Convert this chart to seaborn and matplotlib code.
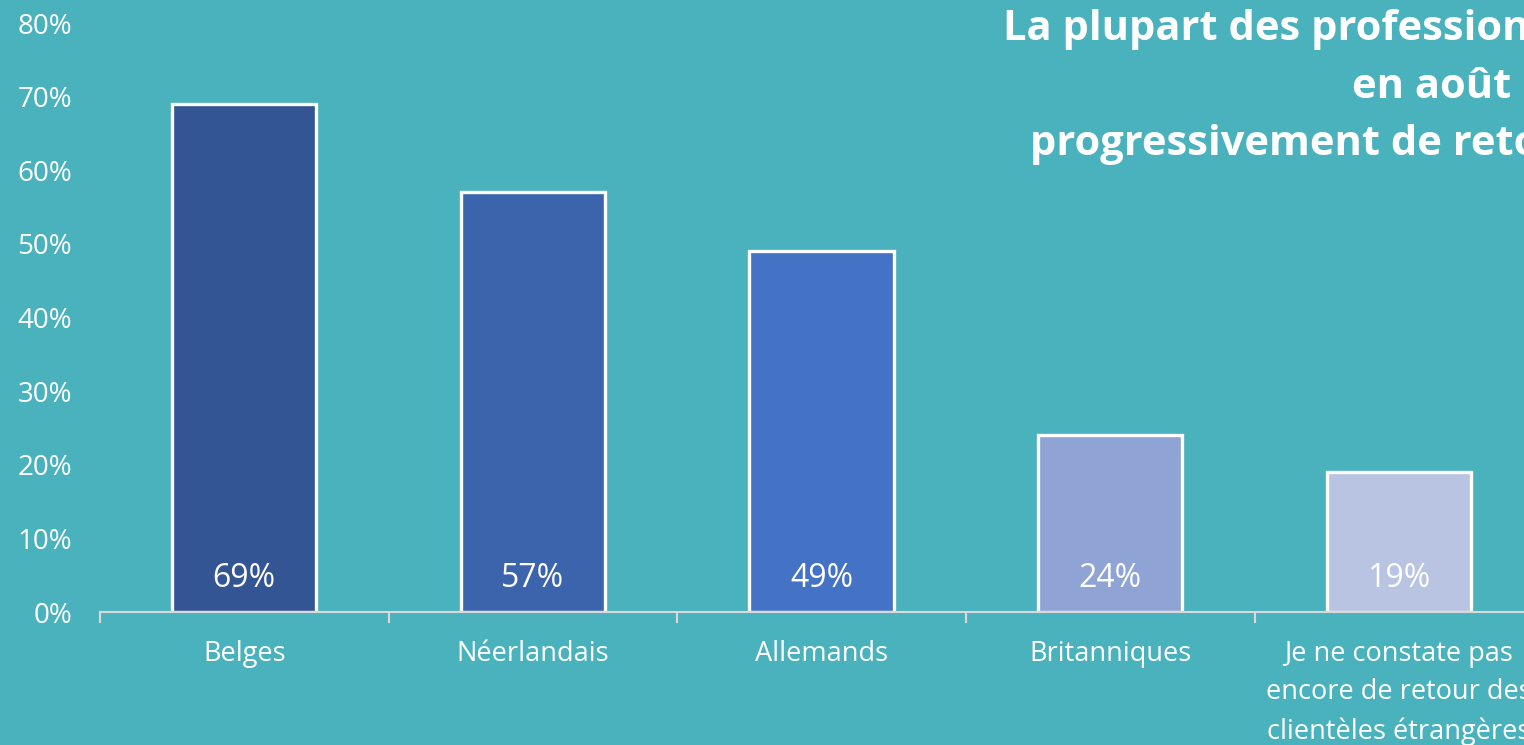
import matplotlib.pyplot as plt
import pandas as pd
import seaborn as sns

categories = [
    "Belges",
    "Néerlandais",
    "Allemands",
    "Britanniques",
    "Je ne constate pas\nencore de retour des\nclientèles étrangères",
]
values = [0.69, 0.57, 0.49, 0.24, 0.19]
bar_colors = ["#335593", "#3B64AD", "#4472C4", "#8FA3D4", "#B9C3E2"]
y_ticks = [0, 0.1, 0.2, 0.3, 0.4, 0.5, 0.6, 0.7, 0.8]
title_lines = ["La plupart des professionnels", "en août des", "progressivement de retour"]

BG = "#4AB2BD"

sns.set_theme(style="white")
plt.rcParams["font.family"] = ["Open Sans", "DejaVu Sans"]

df = pd.DataFrame({"cat": categories, "val": values})

fig = plt.figure(figsize=(15.24, 7.45), dpi=100, facecolor=BG)
ax = fig.add_axes([0.0656, 0.1785, 0.947, 0.7906])
ax.set_facecolor(BG)

sns.barplot(
    data=df, x="cat", y="val", hue="cat", palette=bar_colors, saturation=1,
    width=0.5, edgecolor="white", linewidth=2.4, legend=False, ax=ax,
)

for i, v in enumerate(values):
    ax.text(i, 0.046, f"{v * 100:.0f}%", ha="center", va="center",
            color="white", fontsize=23)

ax.set_xlim(-0.5, len(categories) - 0.5)
ax.set_ylim(0, 0.8)
ax.set_yticks(y_ticks)
ax.set_yticklabels([f"{t * 100:.0f}%" for t in y_ticks])
ax.set_xlabel("")
ax.set_ylabel("")

for side in ["top", "right", "left"]:
    ax.spines[side].set_visible(False)
ax.spines["bottom"].set_color("#D9D9D9")
ax.spines["bottom"].set_linewidth(1.5)

ax.tick_params(axis="y", length=0, labelsize=20, labelcolor="white", pad=20)
ax.tick_params(axis="x", which="major", bottom=True, length=0, labelsize=19.5,
               labelcolor="white", pad=20)
ax.set_xticks([i - 0.5 for i in range(len(categories) + 1)], minor=True)
ax.tick_params(axis="x", which="minor", bottom=True, length=8, width=1.5,
               color="#D9D9D9", direction="out")
for lbl in ax.get_xticklabels():
    lbl.set_linespacing(1.5)

# title, partially cut off on the right as in the source
title_x = [1003 / 1524, 1352 / 1524, 1030 / 1524]
title_y = [0.96, 0.882, 0.806]
for x, y, line in zip(title_x, title_y, title_lines):
    fig.text(x, y, line, ha="left", va="center", color="white",
             fontsize=30, fontweight="bold")

fig.savefig("out.png", dpi=100, facecolor=BG)
